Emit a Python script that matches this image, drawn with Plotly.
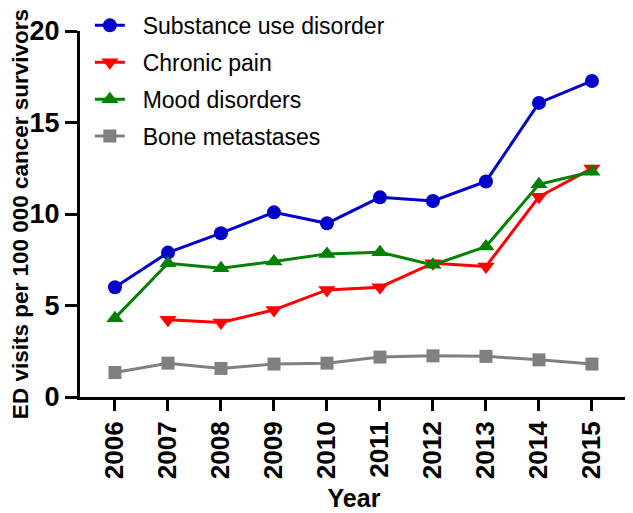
import plotly.graph_objects as go

years = [2006, 2007, 2008, 2009, 2010, 2011, 2012, 2013, 2014, 2015]
substance_use = [6.0, 7.89, 8.95, 10.09, 9.49, 10.91, 10.71, 11.78, 16.07, 17.27]
chronic_pain = [None, 4.22, 4.07, 4.76, 5.85, 6.0, 7.31, 7.13, 10.94, 12.49]
mood_disorders = [4.31, 7.31, 7.04, 7.40, 7.82, 7.91, 7.22, 8.22, 11.62, 12.31]
bone_metastases = [1.34, 1.85, 1.56, 1.80, 1.85, 2.18, 2.25, 2.22, 2.03, 1.80]
y_ticks = [0, 5, 10, 15, 20]

series = [
    ("Substance use disorder", substance_use, "#0000C8", "circle", 14),
    ("Chronic pain", chronic_pain, "#FF0000", "triangle-down", 15),
    ("Mood disorders", mood_disorders, "#008000", "triangle-up", 15),
    ("Bone metastases", bone_metastases, "#808080", "square", 13),
]

fig = go.Figure()
for i, (name, vals, color, sym, size) in enumerate(series):
    fig.add_trace(go.Scatter(
        x=years, y=vals, name="\u00a0\u00a0" + name, mode="lines+markers",
        line=dict(color=color, width=3),
        marker=dict(symbol=sym, size=size, color=color, line=dict(width=0)),
        legendgroup=str(i), connectgaps=False, cliponaxis=False,
    ))

fig.update_layout(
    width=625, height=505,
    margin=dict(l=72, r=5, t=23, b=116, autoexpand=False),
    paper_bgcolor="white", plot_bgcolor="white",
    font=dict(family="Liberation Sans, Arial, sans-serif", color="black"),
    showlegend=True,
    legend=dict(
        x=0.018, y=1.074, xanchor="left", yanchor="top",
        font=dict(size=23, color="black"),
        bgcolor="rgba(0,0,0,0)", tracegroupgap=4,
        itemwidth=30,
    ),
    xaxis=dict(
        range=[2005.34, 2015.68], tickmode="array", tickvals=years,
        ticktext=[str(y) for y in years], tickangle=-90,
        showgrid=False, zeroline=False, showline=True, linecolor="black", linewidth=3,
        ticks="outside", ticklen=11, tickwidth=3, tickcolor="black",
        tickfont=dict(size=26, family="Liberation Sans, Arial, sans-serif", weight="bold"),
        title=dict(text="<b>Year</b>", font=dict(size=25), standoff=12),
    ),
    yaxis=dict(
        range=[0, 20], tickmode="array", tickvals=y_ticks,
        showgrid=False, zeroline=False, showline=True, linecolor="black", linewidth=3,
        ticks="outside", ticklen=12, tickwidth=3, tickcolor="black",
        tickfont=dict(size=27, family="Liberation Sans, Arial, sans-serif", weight="bold"),
        title=dict(text="<b>ED visits per 100 000 cancer survivors</b>", font=dict(size=22.5), standoff=0),
    ),
)

fig.write_html("out.html")
